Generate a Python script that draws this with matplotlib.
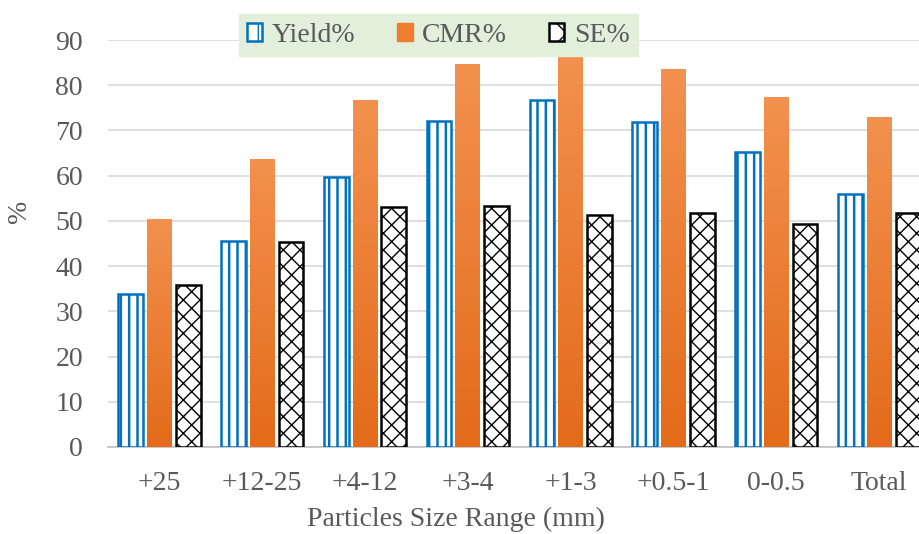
import numpy as np
import matplotlib
matplotlib.use("Agg")
import matplotlib.pyplot as plt
from matplotlib.colors import LinearSegmentedColormap
from matplotlib.patches import Patch

categories = ["+25", "+12-25", "+4-12", "+3-4", "+1-3", "+0.5-1", "0-0.5", "Total"]
yield_pct = [33.8, 45.5, 59.8, 72.2, 76.7, 71.8, 65.3, 56.0]
cmr_pct = [50.5, 63.8, 76.7, 84.6, 86.8, 83.5, 77.3, 73.0]
se_pct = [35.8, 45.3, 53.0, 53.3, 51.4, 51.7, 49.3, 51.8]
yticks = [0, 10, 20, 30, 40, 50, 60, 70, 80, 90]

plt.rcParams['font.family'] = ['Liberation Serif', 'DejaVu Serif']

fig = plt.figure(figsize=(9.19, 5.34), dpi=100)
ax = fig.add_axes([0.1175, 0.163, 0.895, 0.762])

x = np.arange(len(categories))
w = 0.24
off = 0.28
gray = '#595959'
FS = 20

with plt.rc_context({'hatch.linewidth': 1.8}):
    b1 = ax.bar(x - off, yield_pct, w, facecolor='white', edgecolor='#0070C0', hatch='||',
                linewidth=1.8, zorder=3)
b2 = ax.bar(x, cmr_pct, w, color='#ED7D31', linewidth=0, zorder=3)
with plt.rc_context({'hatch.linewidth': 1.0}):
    b3 = ax.bar(x + off, se_pct, w, facecolor='white', edgecolor='black', hatch='xx',
                linewidth=1.8, zorder=3)

# gradient fill for CMR bars
cmap = LinearSegmentedColormap.from_list('og', ['#E36B1A', '#F3914F'])
grad = np.linspace(0, 1, 256).reshape(-1, 1)
for bar in b2:
    bx, by = bar.get_x(), bar.get_y()
    bw, bh = bar.get_width(), bar.get_height()
    im = ax.imshow(grad, cmap=cmap, origin='lower', aspect='auto',
                   extent=[bx, bx + bw, by, by + bh], zorder=3.5)
    im.set_clip_path(bar)

ax.set_xlim(-0.5, len(categories) - 0.5)
ax.set_ylim(0, 90)
ax.set_yticks(yticks)
ax.set_xticks(x)
ax.set_xticklabels(categories)
ax.grid(axis='y', color='#D9D9D9', linewidth=1.2, zorder=0)
ax.set_axisbelow(True)
for s in ['top', 'right', 'left']:
    ax.spines[s].set_visible(False)
ax.spines['bottom'].set_color('#BFBFBF')
ax.spines['bottom'].set_linewidth(1.2)
ax.tick_params(axis='both', length=0, labelsize=FS, colors=gray)
ax.tick_params(axis='y', pad=18)
ax.tick_params(axis='x', pad=17)
ax.set_xlabel("Particles Size Range (mm)", fontsize=FS, color=gray)
ax.xaxis.set_label_coords(0.423, -0.147)
ax.set_ylabel("%", fontsize=FS, color=gray)
ax.yaxis.set_label_coords(-0.092, 0.58)

handles = [
    Patch(facecolor='white', edgecolor='#0070C0', hatch='|', linewidth=1.8, label='Yield%'),
    Patch(facecolor='#ED7D31', edgecolor='#ED7D31', label='CMR%'),
    Patch(facecolor='white', edgecolor='black', hatch='x', linewidth=1.8, label='SE%'),
]
leg = fig.legend(handles=handles, loc='center', bbox_to_anchor=(0.477, 0.934), ncol=3,
                 fontsize=FS, frameon=True, fancybox=False, handlelength=0.55, handleheight=0.6,
                 handletextpad=0.35, columnspacing=1.5, borderpad=0.3)
leg.get_frame().set_facecolor('#E2EFDA')
leg.get_frame().set_edgecolor('#E2EFDA')
leg.get_frame().set_alpha(1)
for t in leg.get_texts():
    t.set_color(gray)

fig.savefig("out.png", dpi=100)
